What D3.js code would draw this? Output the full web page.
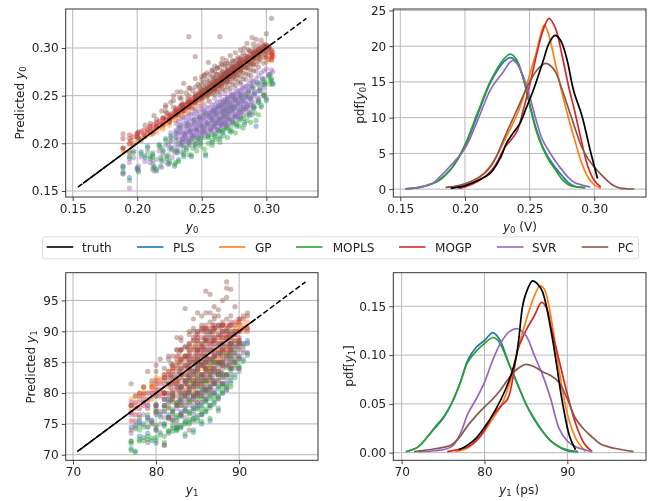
<!DOCTYPE html>
<html>
<head>
<meta charset="utf-8">
<script src="https://cdnjs.cloudflare.com/ajax/libs/d3/7.8.5/d3.min.js"></script>
<style>
  html, body { margin: 0; padding: 0; background: #fff; }
  svg { filter: blur(.35px); }
  text { font-family: "DejaVu Sans", sans-serif; font-size: 12.1px; fill: #222; }
  .tick line { stroke: #333; stroke-width: .9; }
  .grid line { stroke: #b8b8b8; stroke-width: 1; }
</style>
</head>
<body>
<div id="container"></div>
<script>
var max_width = 652,
    max_height = 501;

var names = ["truth", "PLS", "GP", "MOPLS", "MOGP", "SVR", "PC"];
var colors = ["#000000", "#1f77b4", "#ff7f0e", "#2ca02c", "#d62728", "#9467bd", "#8c564b"];

// scatter, top left: y0
var y0_true = [
  .189,.189,.194,.194,.197,.200,.201,.203,.206,.208,
  .210,.212,.213,.215,.217,.219,.220,.222,.223,.225,
  .226,.227,.229,.230,.231,.232,.233,.234,.235,.236,
  .237,.238,.239,.240,.241,.242,.243,.244,.245,.246,
  .247,.248,.249,.250,.251,.252,.253,.254,.255,.256,
  .257,.258,.258,.259,.260,.260,.261,.262,.262,.263,
  .264,.264,.265,.265,.266,.266,.267,.268,.268,.269,
  .269,.270,.270,.271,.272,.272,.273,.274,.274,.275,
  .276,.276,.277,.278,.279,.280,.280,.281,.282,.283,
  .284,.285,.286,.287,.288,.289,.290,.291,.292,.293,
  .294,.295,.296,.297,.298,.299,.300,.302,.304,.305];
var y0_pls = [
  .176,.170,.164,.186,.192,.174,.172,.191,.185,.197,
  .184,.188,.176,.171,.199,.181,.193,.205,.186,.179,
  .208,.195,.176,.212,.190,.183,.218,.198,.204,.188,
  .211,.193,.221,.201,.214,.186,.208,.225,.197,.216,
  .205,.228,.200,.219,.211,.233,.187,.222,.206,.230,
  .214,.226,.201,.235,.218,.209,.232,.222,.238,.213,
  .227,.205,.240,.219,.234,.211,.228,.243,.221,.236,
  .216,.231,.246,.225,.240,.212,.234,.250,.222,.237,
  .228,.247,.218,.241,.233,.252,.226,.245,.236,.220,
  .249,.238,.255,.229,.246,.260,.237,.252,.218,.264,
  .243,.256,.238,.268,.250,.262,.245,.272,.266,.263];
var y0_gp = [
  .190,.194,.192,.199,.200,.202,.204,.205,.207,.211,
  .209,.214,.212,.218,.216,.221,.219,.225,.221,.224,
  .229,.225,.231,.228,.233,.230,.236,.232,.238,.234,
  .240,.236,.242,.238,.243,.240,.246,.242,.248,.244,
  .250,.246,.252,.248,.254,.250,.256,.252,.258,.254,
  .260,.256,.261,.257,.263,.258,.264,.260,.265,.261,
  .267,.262,.268,.263,.269,.264,.270,.266,.271,.267,
  .272,.268,.273,.269,.275,.270,.276,.272,.277,.273,
  .279,.274,.280,.276,.282,.278,.283,.279,.285,.281,
  .287,.283,.289,.285,.290,.287,.292,.289,.294,.291,
  .296,.293,.297,.295,.299,.297,.301,.299,.290,.293];
var y0_mopls = [
  .174,.168,.161,.184,.190,.174,.170,.189,.187,.195,
  .186,.186,.174,.173,.197,.183,.191,.203,.184,.181,
  .206,.193,.178,.210,.192,.181,.216,.200,.202,.190,
  .209,.195,.219,.203,.212,.188,.206,.223,.199,.214,
  .207,.226,.202,.217,.213,.231,.189,.220,.208,.228,
  .216,.224,.203,.233,.220,.207,.230,.224,.236,.215,
  .225,.207,.238,.221,.232,.213,.230,.241,.223,.234,
  .218,.233,.244,.227,.238,.214,.236,.248,.224,.239,
  .230,.245,.220,.243,.235,.250,.228,.247,.238,.222,
  .251,.240,.253,.231,.248,.258,.239,.254,.224,.262,
  .245,.258,.240,.266,.252,.264,.247,.270,.268,.262];
var y0_mogp = [
  .195,.205,.200,.209,.207,.210,.206,.212,.209,.213,
  .217,.215,.220,.218,.223,.221,.226,.224,.228,.226,
  .231,.228,.233,.231,.235,.233,.238,.235,.240,.237,
  .241,.238,.243,.240,.245,.242,.247,.244,.249,.246,
  .251,.248,.253,.250,.255,.252,.256,.254,.258,.255,
  .260,.257,.262,.258,.263,.260,.265,.261,.266,.262,
  .268,.263,.269,.265,.270,.266,.272,.267,.273,.269,
  .274,.270,.275,.272,.277,.273,.278,.274,.280,.276,
  .281,.277,.283,.279,.284,.281,.286,.282,.288,.285,
  .289,.286,.291,.288,.293,.290,.295,.292,.297,.294,
  .298,.296,.300,.298,.302,.300,.303,.301,.295,.291];
var y0_svr = [
  .168,.176,.153,.180,.185,.172,.176,.186,.181,.191,
  .180,.178,.171,.183,.192,.175,.188,.198,.180,.194,
  .202,.185,.190,.207,.195,.199,.212,.191,.205,.198,
  .208,.202,.216,.199,.212,.205,.219,.209,.214,.200,
  .221,.212,.225,.207,.227,.216,.211,.229,.220,.232,
  .213,.225,.234,.218,.229,.237,.221,.232,.214,.239,
  .226,.240,.219,.233,.243,.224,.236,.228,.245,.219,
  .238,.226,.248,.232,.241,.222,.250,.235,.244,.229,
  .252,.238,.246,.229,.255,.241,.249,.233,.258,.244,
  .236,.260,.248,.263,.241,.230,.265,.252,.268,.247,
  .271,.255,.274,.262,.276,.250,.278,.272,.277,.275];
var y0_pc = [
  .195,.210,.190,.205,.198,.207,.212,.203,.219,.215,
  .221,.210,.229,.225,.218,.234,.227,.238,.232,.222,
  .243,.228,.233,.237,.254,.230,.248,.239,.242,.263,
  .234,.253,.247,.312,.258,.237,.255,.243,.291,.250,
  .262,.245,.257,.267,.248,.272,.259,.250,.285,.263,
  .254,.276,.260,.268,.281,.256,.272,.263,.279,.258,
  .312,.268,.284,.262,.276,.289,.266,.273,.283,.264,
  .287,.271,.278,.268,.292,.274,.281,.270,.286,.276,
  .295,.279,.272,.288,.283,.298,.277,.291,.284,.300,
  .280,.305,.287,.297,.283,.311,.291,.300,.309,.296,
  .303,.290,.308,.298,.304,.293,.315,.300,.331,.296];

// denser parts of the y0 clouds, each row is x then the predictions at that x
var y0_gp_more = [
  [.215,.212],[.220,.215,.218],[.225,.219,.223],[.230,.224,.228],[.235,.228,.232],
  [.240,.232,.237],[.245,.236,.241],[.250,.240,.245],[.255,.245],[.300,.285,.292],[.304,.287,.291]];
var y0_mopls_more = [
  [.212,.173,.182,.190],[.218,.176,.185,.196],[.224,.178,.188,.199],[.230,.180,.192,.203],
  [.236,.186,.196],[.240,.188,.198],[.246,.192,.203],[.252,.194,.206],[.258,.198,.209],
  [.264,.201,.213],[.270,.206,.216],[.276,.211,.221],[.282,.216,.226],[.288,.222,.233],
  [.294,.230,.243],[.298,.250,.262],[.303,.262,.266,.272],
  [.243,.195,.201],[.249,.197,.205],[.255,.200,.208],[.261,.204,.211],[.267,.208,.214],
  [.273,.213,.219],[.279,.218,.224],[.285,.224,.230],[.291,.232,.238]];
var y0_mogp_more = [
  [.195,.203],[.200,.207,.211],[.205,.209,.214],[.210,.212,.218],[.215,.217,.222],
  [.220,.220,.226],[.225,.225,.230],[.230,.230,.235],[.235,.234,.240],[.240,.238,.244],
  [.245,.243,.249],[.250,.247,.253],[.255,.251,.257],[.260,.256,.262,.266],[.265,.260,.266,.271],
  [.270,.265,.271,.276],[.275,.270,.276,.281],[.280,.275,.281,.286],[.285,.280,.286,.291],
  [.290,.284,.290,.296],[.295,.288,.294,.300],[.300,.290,.296,.302],[.304,.288,.293,.298]];
var y0_svr_more = [
  [.226,.196,.203,.211],[.230,.199,.206,.214,.221],[.234,.201,.208,.213,.219,.226],
  [.238,.203,.207,.212,.218,.223,.228],[.242,.204,.209,.215,.220,.226,.231],
  [.246,.206,.212,.217,.222,.228,.233],[.250,.208,.213,.219,.224,.229,.236],
  [.254,.211,.216,.221,.226,.232,.237],[.258,.213,.219,.224,.229,.234,.240],
  [.262,.215,.221,.226,.231,.237,.243],[.266,.218,.223,.228,.234,.240,.245],
  [.270,.220,.226,.231,.237,.242,.248],[.274,.223,.228,.234,.239,.245,.251],
  [.278,.226,.231,.236,.242,.248,.254],[.282,.229,.234,.240,.245,.252,.258],
  [.286,.233,.238,.243,.249,.256],[.290,.237,.243,.250,.258,.264],
  [.294,.247,.255,.263],[.298,.258,.268],
  [.232,.204,.211,.217,.223],[.236,.205,.210,.216,.221,.227],[.240,.206,.212,.218,.224,.230],
  [.244,.208,.214,.220,.225,.231,.236],[.248,.210,.216,.221,.227,.233,.239],
  [.252,.213,.218,.224,.229,.235,.241],[.256,.215,.221,.227,.232,.238,.244],
  [.260,.217,.223,.229,.235,.241,.247],[.264,.220,.226,.232,.238,.244,.250],
  [.268,.222,.229,.235,.240,.246,.252],[.272,.225,.231,.237,.243,.249,.254],
  [.276,.228,.234,.240,.246,.252,.257],[.280,.232,.238,.244,.250,.256,.262],
  [.284,.236,.242,.248,.254,.260],[.288,.240,.247,.253,.260,.266]];
var y0_pc_more = [
  [.222,.233,.240],[.228,.238,.245,.250],[.234,.240,.247,.254],[.240,.243,.250,.258],
  [.245,.246,.252,.259,.268],[.250,.250,.256,.262,.270],[.254,.249,.255,.261,.267,.274],
  [.258,.252,.258,.264,.270,.277],[.262,.254,.260,.266,.272,.279],[.266,.257,.263,.269,.275,.283],
  [.270,.259,.265,.271,.277,.284],[.274,.262,.268,.274,.280,.287],[.278,.265,.271,.277,.283,.290],
  [.282,.268,.274,.280,.286,.295],[.286,.272,.278,.284,.290,.298],[.290,.276,.282,.288,.294,.304],
  [.294,.280,.286,.292,.298],[.298,.284,.290,.296,.302],[.302,.288,.295,.300],
  [.248,.248,.254,.260],[.252,.252,.258,.264,.271],[.256,.253,.259,.265,.272],
  [.260,.251,.257,.263,.269,.275],[.264,.254,.261,.267,.273,.280],[.268,.256,.262,.268,.274,.281],
  [.272,.258,.264,.270,.276,.283],[.276,.261,.267,.273,.279,.286],[.280,.264,.270,.276,.282,.289],
  [.284,.267,.273,.279,.285,.292],[.288,.271,.277,.283,.289,.296],[.292,.276,.283,.289,.295]];

// scatter, bottom left: y1
var y1_true = [
  77.0,77.0,77.0,77.5,77.5,78.0,78.0,78.5,78.5,79.0,
  79.0,79.5,79.5,80.0,80.0,80.0,80.5,80.5,81.0,81.0,
  81.0,81.5,81.5,81.5,82.0,82.0,82.0,82.5,82.5,82.5,
  83.0,83.0,83.0,83.0,83.5,83.5,83.5,83.5,84.0,84.0,
  84.0,84.0,84.0,84.5,84.5,84.5,84.5,84.5,85.0,85.0,
  85.0,85.0,85.0,85.0,85.5,85.5,85.5,85.5,85.5,85.5,
  86.0,86.0,86.0,86.0,86.0,86.0,86.5,86.5,86.5,86.5,
  86.5,87.0,87.0,87.0,87.0,87.0,87.5,87.5,87.5,87.5,
  88.0,88.0,88.0,88.0,88.0,88.5,88.5,88.5,88.5,89.0,
  89.0,89.0,89.0,89.5,89.5,89.5,90.0,90.0,90.0,90.5,
  90.5,91.0,91.0,88.5,87.5,86.5,85.5,84.5,83.5,82.5];
var y1_pls = [
  71.0,72.2,74.5,70.6,74.8,73.0,75.2,75.0,72.8,73.5,
  76.0,72.3,75.6,74.0,71.9,77.5,73.6,76.5,71.6,75.0,
  78.0,73.5,76.5,79.0,74.3,77.0,80.0,73.9,76.0,78.5,
  74.4,76.8,79.0,81.0,75.0,77.5,80.0,82.0,75.3,77.0,
  79.0,81.0,83.0,75.5,77.5,79.5,81.5,83.5,76.0,78.0,
  80.0,82.0,84.0,85.0,76.5,78.0,79.5,81.0,83.0,85.0,
  77.0,79.0,80.5,82.0,84.0,85.5,78.0,79.5,81.0,83.0,
  85.0,78.5,80.0,82.0,84.0,86.0,79.5,81.0,83.0,85.0,
  80.0,81.5,83.0,85.0,87.0,81.5,83.0,84.5,86.5,82.0,
  84.0,86.0,88.0,83.0,85.0,87.5,84.0,86.0,88.5,85.5,
  88.0,86.5,88.5,80.5,77.5,75.5,75.0,74.0,73.0,74.5];
var y1_gp = [
  77.2,78.0,79.0,78.0,79.5,79.0,80.0,79.5,80.8,80.0,
  78.5,80.5,81.5,79.5,81.0,82.5,80.5,82.0,81.0,83.0,
  80.0,82.0,83.5,81.0,84.0,82.5,80.5,83.5,85.0,82.0,
  84.0,82.5,85.5,81.0,84.5,83.0,86.0,81.5,85.0,83.5,
  86.5,82.0,84.5,85.5,83.5,87.0,82.0,85.0,86.0,84.0,
  87.5,82.5,85.5,88.0,84.0,86.5,83.0,88.0,85.0,87.0,
  84.5,88.5,86.0,83.5,87.5,85.0,89.0,86.5,84.5,88.0,
  85.5,89.0,87.0,85.0,88.5,86.0,89.5,87.5,85.5,88.5,
  86.5,90.0,88.0,87.0,89.0,87.5,90.0,88.5,86.5,88.0,
  90.0,89.0,87.5,88.5,90.5,89.5,90.0,91.0,88.5,90.0,
  91.0,90.5,91.5,89.0,86.5,84.0,82.0,80.5,86.0,81.5];
var y1_mopls = [
  70.7,71.8,72.2,70.4,74.2,72.5,74.8,74.5,72.3,73.0,
  75.6,72.7,75.2,74.4,72.3,77.0,73.2,76.1,72.0,74.6,
  77.6,73.9,76.1,78.6,74.7,76.6,79.6,74.3,75.6,78.1,
  74.8,76.4,78.6,80.6,75.4,77.1,79.6,81.6,75.7,76.6,
  78.6,80.6,82.6,75.9,77.1,79.1,81.1,83.1,76.4,77.6,
  79.6,81.6,83.6,84.6,76.9,77.6,79.1,80.6,82.6,84.6,
  77.4,78.6,80.1,81.6,83.6,85.1,77.6,79.1,80.6,82.6,
  84.6,78.9,79.6,81.6,83.6,85.6,79.1,80.6,82.6,84.6,
  80.4,81.1,82.6,84.6,86.6,81.1,82.6,84.1,86.1,81.6,
  83.6,85.6,87.6,84.0,85.4,87.1,84.4,85.6,88.1,85.1,
  87.6,86.1,88.1,80.9,77.1,75.9,75.4,73.6,73.4,74.1];
var y1_mogp = [
  75.5,76.8,78.0,76.5,78.5,77.5,79.5,78.5,80.0,79.0,
  77.5,80.0,81.0,78.0,80.5,82.0,79.5,81.5,80.0,82.5,
  79.0,81.5,83.0,80.0,83.5,81.5,79.5,84.5,82.0,86.0,
  83.0,81.0,85.5,87.0,84.0,82.0,86.0,80.5,84.5,82.5,
  87.0,81.0,85.5,85.0,83.0,87.5,81.5,89.0,85.5,83.5,
  88.5,81.5,86.5,89.5,83.0,86.0,90.0,87.5,84.5,81.5,
  84.0,88.5,90.0,82.5,86.0,90.5,85.5,88.0,83.5,90.5,
  87.0,90.5,86.5,84.0,88.5,90.5,89.0,87.0,85.0,91.0,
  86.0,90.0,88.0,91.0,84.5,87.0,91.0,89.0,85.5,88.0,
  91.0,89.5,87.0,88.5,91.5,90.0,89.0,92.0,87.5,90.5,
  92.0,90.5,92.5,89.5,83.5,82.0,87.0,79.5,79.5,80.5];
var y1_svr = [
  73.5,76.5,78.5,74.5,77.5,75.5,78.5,76.5,79.0,74.5,
  78.0,75.5,79.5,76.5,80.0,78.0,75.0,80.5,77.0,81.5,
  79.0,76.0,81.5,78.5,82.5,76.0,80.0,83.0,77.5,81.0,
  78.5,84.0,76.5,81.0,79.5,84.5,77.0,82.0,80.0,85.0,
  78.0,83.0,86.0,81.0,79.0,85.0,77.5,83.5,87.0,80.0,
  84.0,78.5,86.0,82.0,88.0,80.5,84.5,78.5,86.5,82.5,
  88.5,80.5,85.0,79.5,87.0,83.0,89.0,81.0,85.5,80.0,
  87.5,83.5,89.0,81.5,86.0,80.5,88.0,84.0,82.0,86.5,
  89.5,81.5,84.5,87.5,83.0,90.0,85.5,82.0,88.0,84.0,
  86.5,89.5,82.5,85.0,87.5,89.5,83.5,86.0,88.0,87.0,
  88.0,86.5,88.0,80.5,79.0,78.0,76.5,76.5,76.0,75.0];
var y1_pc = [
  74.0,78.0,81.5,75.5,79.5,76.5,80.0,78.0,81.0,72.0,
  83.5,75.0,82.0,74.0,78.0,84.5,77.0,85.5,71.5,80.0,
  83.0,76.0,82.5,86.0,75.5,79.0,84.5,78.0,87.0,81.5,
  76.5,89.0,83.5,80.0,78.0,93.7,85.5,82.0,74.0,87.5,
  80.0,90.0,84.0,78.5,92.0,86.0,82.0,88.5,80.0,93.0,
  84.5,78.5,90.0,87.0,82.0,92.5,79.5,88.0,85.0,90.5,
  81.0,93.0,86.0,79.0,96.5,88.5,83.0,93.0,80.5,90.0,
  96.0,85.0,92.0,81.5,88.5,94.0,83.0,90.5,86.0,93.5,
  81.5,95.0,88.0,91.0,85.0,98.0,83.0,95.5,90.0,84.5,
  96.8,88.0,92.5,86.0,94.0,90.0,84.0,92.0,88.0,86.5,
  92.5,93.0,90.0,97.0,92.5,89.5,91.0,90.5,87.5,89.0];

// denser parts of the y1 clouds
var y1_gp_more = [[78.5,79.8,81.0],[79.5,79.0,81.2],[80.5,80.0,82.3],[88.5,90.2],[90,90.4,91.2]];
var y1_mopls_more = [
  [78,72.2,74.0,76.0],[79,72.5,74.5,76.5],[80,72.8,74.8,76.8,78.2],[81,73.0,75.0,77.0,79.0],
  [82,73.8,75.6,77.4,79.2],[83,74.5,76.2,78.0,79.8,81.0],[84,75.0,76.8,78.4,80.2,82.0],
  [85,75.5,77.4,79.2,81.0,82.8],[86,77.0,78.6,80.4,82.0,84.0],[87,78.2,80.0,81.6,83.4,85.0],
  [88,80.0,81.6,83.2,85.0],[89,81.0,83.0,85.0,86.6],[89.5,82.5,84.5,86.5],
  [81.5,73.8,75.8,77.8],[82.5,74.4,76.4,78.4],[83.5,75.2,77.2,79.2],[84.5,75.8,77.8,79.8,81.6],
  [85.5,76.6,78.4,80.2,82.0],[86.5,78.0,79.8,81.6,83.4],[87.5,79.4,81.2,83.0,84.8]];
var y1_mogp_more = [
  [81,80.0,82.5],[82,82.0,84.0],[83,83.0,85.0,87.0],[84,84.0,86.0,88.0],[85,85.0,87.0,89.0],
  [86,85.0,87.0,89.0,90.5],[87,86.0,88.0,90.0,91.0],[88,87.0,89.0,91.0],[89,87.0,89.0,91.0],
  [90,88.0,90.0,91.5]];
var y1_svr_more = [
  [79,76.0,78.0,80.0],[81,76.0,78.0,80.0],[83,77.0,79.0,81.0],[85,78.0,80.0],[87,80.0,82.0],
  [89,84.0,86.0,88.0]];
var y1_pc_more = [
  [80,77.0,79.5,81.5,83.5],[81,78.0,80.0,82.0,84.0],[81.5,77.5,79.5,81.5,83.5,85.5],
  [82,77.0,78.5,80.0,81.5,83.0,84.5,86.0],[82.5,78.0,79.5,81.0,82.5,84.0,85.5,87.0],
  [83,78.0,79.5,81.0,82.5,84.0,85.5,87.0,88.5],[83.5,78.5,80.0,81.5,83.0,84.5,86.0,87.5],
  [84,79.0,80.5,82.0,83.5,85.0,86.5,88.0,89.5],[84.5,79.5,81.0,82.5,84.0,85.5,87.0,88.5,90.0],
  [85,79.5,81.0,82.5,84.0,85.5,87.0,88.5,90.0],[85.5,80.0,81.5,83.0,84.5,86.0,87.5,89.0,90.5],
  [86,80.5,82.0,83.5,85.0,86.5,88.0,89.5,91.0],[86.5,81.0,82.5,84.0,85.5,87.0,88.5,90.0,91.5],
  [87,81.5,83.0,84.5,86.0,87.5,89.0,90.5,92.5],[87.5,82.0,83.5,85.0,86.5,88.0,89.5,91.0],
  [88,82.5,84.0,85.5,87.0,88.5,90.0,91.5],[88.5,83.0,84.5,86.0,87.5,89.0,90.5,92.0],
  [89,84.0,85.5,87.0,88.5,90.0,91.5],[89.5,85.0,86.5,88.0,89.5,91.0],[90,85.5,87.0,88.5,90.0],
  [81.8,78.8,80.8,82.8,84.8],[82.8,78.8,80.3,81.8,83.3,84.8,86.3],[83.8,79.8,81.3,82.8,84.3,85.8,87.3],
  [84.8,80.2,81.8,83.3,84.8,86.3,87.8,89.3],[85.8,80.8,82.8,84.3,85.8,87.3,88.8,90.3],
  [86.8,82.3,83.8,85.3,86.8,88.3,89.8,91.0],[87.8,83.3,84.8,86.3,87.8,89.3,90.8],
  [88.8,84.8,86.3,87.8,89.3,90.8]];

// truth line in the scatters
var y0_guide = [.154, .331], y0_solid = [.158, .305];
var y1_guide = [70.5, 98], y1_solid = [70.8, 92];

// pdf curves, top right: y0
var pdf0_truth_x = [.189,.20,.21,.22,.228,.232,.237,.2425,.2475,.2528,.2606,.265,.2697,.274,.2788,.284,.2904,.2969,.3025];
var pdf0_truth_y = [.1,.5,1.2,2.3,4.6,6.4,7.8,9.2,11.4,13.8,18,20.4,21.5,20.8,18.2,13.8,10.3,5.4,1.5];
var pdf0_pls_x = [.154,.165,.175,.18,.19,.20,.21,.22,.23,.235,.24,.245,.25,.255,.26,.265,.27,.275,.28,.285,.293];
var pdf0_pls_y = [.05,.25,.8,1.3,3,6,10.5,15,17.8,18.4,17.8,15.5,12,8.5,6,4.3,3,1.9,.9,.4,.2];
var pdf0_gp_x = [.197,.205,.21,.22,.23,.24,.245,.25,.255,.26,.2615,.265,.27,.275,.28,.285,.29,.295,.30,.305];
var pdf0_gp_y = [.2,.8,1.4,3.3,6.6,10.3,12.8,16,19,22.5,23,21.5,17.5,13.5,10,6.8,3.8,1.7,.6,.1];
var pdf0_mopls_x = [.154,.165,.175,.18,.19,.20,.21,.22,.23,.235,.24,.245,.25,.255,.26,.265,.27,.275,.28,.285,.293];
var pdf0_mopls_y = [.05,.25,.8,1.2,3,6.2,10.8,15.2,18.2,18.9,18.1,15.6,11.8,8.2,5.8,4,2.7,1.4,.6,.35,.2];
var pdf0_mogp_x = [.195,.20,.21,.22,.225,.23,.24,.245,.25,.255,.26,.265,.27,.275,.28,.285,.29,.295,.30,.305];
var pdf0_mogp_y = [.1,.3,1.1,2.5,3.8,5.6,8,11,14.5,18.5,22,23.9,22.5,18.8,14.5,10.8,6.8,3.2,1.2,.3];
var pdf0_svr_x = [.154,.165,.175,.18,.19,.20,.21,.22,.23,.235,.2375,.24,.245,.25,.255,.26,.27,.275,.28,.285,.29,.297];
var pdf0_svr_y = [.05,.3,.8,1.6,3.5,5.7,9.7,14,16.5,17.8,18,17.6,15.8,13,9.7,6.9,3.9,2.7,1.6,.9,.6,.3];
var pdf0_pc_x = [.185,.195,.205,.215,.22,.225,.23,.24,.25,.255,.26,.2625,.266,.27,.275,.28,.285,.29,.295,.30,.305,.31,.315,.32,.325,.331];
var pdf0_pc_y = [.25,.5,1.1,2.2,3.2,4.8,7,11,15,16.5,17.4,17.6,17.3,16.4,14,11.3,8.6,6,4.3,3.1,2.1,1.2,.5,.15,.05,.02];

// pdf curves, bottom right: y1
var pdf1_truth_x = [76.9,78,79,80,81,82.6,83.8,84.6,85,85.8,86.4,87,88.2,89.4,90.3,91];
var pdf1_truth_y = [.003,.008,.015,.026,.039,.066,.097,.15,.163,.176,.173,.165,.117,.052,.016,.003];
var pdf1_pls_x = [70.5,72,73,74,75,76,77,78,79,80,81,81.5,82,83,84,85,86,87,88,89,90,91.3];
var pdf1_pls_y = [.001,.006,.015,.025,.035,.05,.07,.095,.108,.115,.123,.12,.113,.09,.07,.05,.035,.022,.012,.006,.002,.001];
var pdf1_gp_x = [76.5,78,79,80,81,82,83,84,85,86,86.7,87.2,88,89,90,91,92.2];
var pdf1_gp_y = [.001,.005,.012,.022,.035,.048,.07,.105,.135,.16,.171,.168,.14,.085,.04,.015,.001];
var pdf1_mopls_x = [70.5,72,73,74,75,76,77,78,79,80,81,81.5,82,83,84,85,86,87,88,89,90,91.3];
var pdf1_mopls_y = [.001,.006,.015,.026,.036,.05,.07,.093,.104,.112,.118,.116,.11,.09,.07,.05,.034,.022,.012,.006,.003,.001];
var pdf1_mogp_x = [75.5,78,79,80,81,82,82.8,83.5,84,85,86,86.9,87.5,88,89,90,91,92,93];
var pdf1_mogp_y = [.001,.006,.012,.023,.038,.048,.055,.08,.105,.125,.14,.154,.148,.13,.095,.06,.03,.01,.001];
var pdf1_svr_x = [72,74,76,77,78,79,80,81,82,83,84,85,86,87,88,89,90,91,93];
var pdf1_svr_y = [.001,.002,.006,.018,.04,.055,.072,.095,.113,.124,.127,.12,.1,.08,.055,.025,.012,.006,.001];
var pdf1_pc_x = [71.5,74,76,77,78,79,80,81,82,83,84,85,86,87,88,89,90,91,92,93,94,95,96,98];
var pdf1_pc_y = [.001,.004,.008,.016,.028,.038,.047,.055,.065,.077,.086,.0905,.088,.083,.079,.072,.055,.035,.024,.016,.009,.006,.004,.001];

var ticks0 = [.15, .20, .25, .30],
    ticks1 = [70, 80, 90],
    ticks1y = [70, 75, 80, 85, 90, 95],
    ticks_pdf0 = [0, 5, 10, 15, 20, 25],
    ticks_pdf1 = [0, .05, .10, .15];

var svg = d3.select("#container")
            .append("svg")
            .attr("width", max_width)
            .attr("height", max_height)
            .style("display", "block");

// makes one axes box with grid and ticks, returns scales and plot group
function panel(box, xdomain, ydomain, xticks, yticks, xfmt, yfmt){
  var x = d3.scaleLinear().domain(xdomain).range([box.left, box.right]);
  var y = d3.scaleLinear().domain(ydomain).range([box.bottom, box.top]);

  var g = svg.append("g");

  var grid = g.append("g").attr("class", "grid");
  grid.selectAll(".gx").data(xticks).enter().append("line")
      .attr("x1", function(d){return x(d)}).attr("x2", function(d){return x(d)})
      .attr("y1", box.top).attr("y2", box.bottom);
  grid.selectAll(".gy").data(yticks).enter().append("line")
      .attr("y1", function(d){return y(d)}).attr("y2", function(d){return y(d)})
      .attr("x1", box.left).attr("x2", box.right);

  var plot = g.append("g");

  g.append("rect")
   .attr("x", box.left).attr("y", box.top)
   .attr("width", box.right - box.left).attr("height", box.bottom - box.top)
   .style("fill", "none").style("stroke", "#333").style("stroke-width", 1);

  var xAxis = d3.axisBottom(x).tickValues(xticks).tickFormat(d3.format(xfmt)).tickSize(4).tickPadding(3);
  var yAxis = d3.axisLeft(y).tickValues(yticks).tickFormat(d3.format(yfmt)).tickSize(4).tickPadding(3);

  g.append("g").attr("transform", "translate(0," + box.bottom + ")").call(xAxis)
   .call(function(s){ s.select(".domain").remove(); });
  g.append("g").attr("transform", "translate(" + box.left + ",0)").call(yAxis)
   .call(function(s){ s.select(".domain").remove(); });
  g.selectAll(".tick text").style("font-size", "12.1px").style("font-family", '"DejaVu Sans", sans-serif').style("fill", "#222");

  return {x: x, y: y, plot: plot};
}

// label like "Predicted y0", the y is oblique and the digit is a subscript
function label(px, py, before, sub, after, rotate){
  var t = svg.append("text")
     .attr("text-anchor", "middle")
     .attr("transform", "translate(" + px + "," + py + ")" + (rotate ? " rotate(-90)" : ""));
  t.append("tspan").text(before);
  t.append("tspan").style("font-style", "italic").text("y");
  t.append("tspan").attr("dy", 2).style("font-size", "8.5px").text(sub);
  t.append("tspan").attr("dy", -2).text(after);
}

// puts the shared-x points and the extra columns of one series into [x, y] pairs
function points(xs, ys, more){
  var out = ys.map(function(d, i){ return [xs[i], d] });
  more.forEach(function(col){
    col.slice(1).forEach(function(v){ out.push([col[0], v]) });
  });
  return out;
}

function scatter(p, series, guide, solid){
  series.forEach(function(pts, k){
    p.plot.append("g").selectAll("circle")
     .data(pts)
     .enter().append("circle")
     .attr("cx", function(d){ return p.x(d[0]) })
     .attr("cy", function(d){ return p.y(d[1]) })
     .attr("r", 2.6)
     .style("fill", colors[k + 1])
     .style("fill-opacity", .42);
  });

  p.plot.append("line")
   .attr("x1", p.x(guide[0])).attr("y1", p.y(guide[0]))
   .attr("x2", p.x(guide[1])).attr("y2", p.y(guide[1]))
   .style("stroke", "#000").style("stroke-width", 1.5).style("stroke-dasharray", "5.5,2.5");
  p.plot.append("line")
   .attr("x1", p.x(solid[0])).attr("y1", p.y(solid[0]))
   .attr("x2", p.x(solid[1])).attr("y2", p.y(solid[1]))
   .style("stroke", "#000").style("stroke-width", 1.5);
}

function curves(p, list){
  var line = d3.line()
    .x(function(d){ return p.x(d[0]) })
    .y(function(d){ return p.y(d[1]) })
    .curve(d3.curveCatmullRom.alpha(.5));
  // truth goes last so it sits on top, like the reference
  var order = [1, 2, 3, 4, 5, 6, 0];
  order.forEach(function(k){
    p.plot.append("path")
     .attr("d", line(d3.zip(list[k][0], list[k][1])))
     .style("fill", "none")
     .style("stroke", colors[k])
     .style("stroke-width", 1.7);
  });
}

var boxes = [
  {left: 65.7, right: 318, top: 9, bottom: 197},
  {left: 393.3, right: 646, top: 9, bottom: 197},
  {left: 65.7, right: 318, top: 272.7, bottom: 460.3},
  {left: 393.3, right: 646, top: 272.7, bottom: 460.3}
];

var p0 = panel(boxes[0], [.1446, .340], [.1437, .3409], ticks0, ticks0, ".2f", ".2f");
scatter(p0, [
  points(y0_true, y0_pls, []),
  points(y0_true, y0_gp, y0_gp_more),
  points(y0_true, y0_mopls, y0_mopls_more),
  points(y0_true, y0_mogp, y0_mogp_more),
  points(y0_true, y0_svr, y0_svr_more),
  points(y0_true, y0_pc, y0_pc_more)
], y0_guide, y0_solid);

var p1 = panel(boxes[1], [.1446, .340], [-1.1, 25.2], ticks0, ticks_pdf0, ".2f", "d");
curves(p1, [
  [pdf0_truth_x, pdf0_truth_y], [pdf0_pls_x, pdf0_pls_y], [pdf0_gp_x, pdf0_gp_y],
  [pdf0_mopls_x, pdf0_mopls_y], [pdf0_mogp_x, pdf0_mogp_y], [pdf0_svr_x, pdf0_svr_y], [pdf0_pc_x, pdf0_pc_y]
]);

var p2 = panel(boxes[2], [69.12, 99.5], [69.1, 99.5], ticks1, ticks1y, "d", "d");
scatter(p2, [
  points(y1_true, y1_pls, []),
  points(y1_true, y1_gp, y1_gp_more),
  points(y1_true, y1_mopls, y1_mopls_more),
  points(y1_true, y1_mogp, y1_mogp_more),
  points(y1_true, y1_svr, y1_svr_more),
  points(y1_true, y1_pc, y1_pc_more)
], y1_guide, y1_solid);

var p3 = panel(boxes[3], [68.99, 99.5], [-.0078, .1844], ticks1, ticks_pdf1, "d", ".2f");
curves(p3, [
  [pdf1_truth_x, pdf1_truth_y], [pdf1_pls_x, pdf1_pls_y], [pdf1_gp_x, pdf1_gp_y],
  [pdf1_mopls_x, pdf1_mopls_y], [pdf1_mogp_x, pdf1_mogp_y], [pdf1_svr_x, pdf1_svr_y], [pdf1_pc_x, pdf1_pc_y]
]);

label(192, 231, "", "0", "");
label(520, 231, "", "0", " (V)");
label(192, 494, "", "1", "");
label(519, 494, "", "1", " (ps)");
label(24, 103, "Predicted ", "0", "", true);
label(364, 103, "pdf[", "0", "]", true);
label(35, 367, "Predicted ", "1", "", true);
label(353, 366, "pdf[", "1", "]", true);

// legend
var legend = svg.append("g");
legend.append("rect")
      .attr("x", 42.5).attr("y", 236.8)
      .attr("width", 596).attr("height", 22).attr("rx", 2)
      .style("fill", "#fff").style("stroke", "#ddd").style("stroke-width", 1);

var legend_x = [46.7, 137, 219, 296, 399, 497, 581.7];
var legend_text_x = [82, 173, 255, 332.7, 435, 532, 617.7];

names.forEach(function(name, i){
  legend.append("line")
        .attr("x1", legend_x[i]).attr("x2", legend_x[i] + 26.5)
        .attr("y1", 247).attr("y2", 247)
        .style("stroke", colors[i]).style("stroke-width", 1.6);
  legend.append("text")
        .attr("x", legend_text_x[i]).attr("y", 251.5)
        .text(name);
});
</script>
</body>
</html>
